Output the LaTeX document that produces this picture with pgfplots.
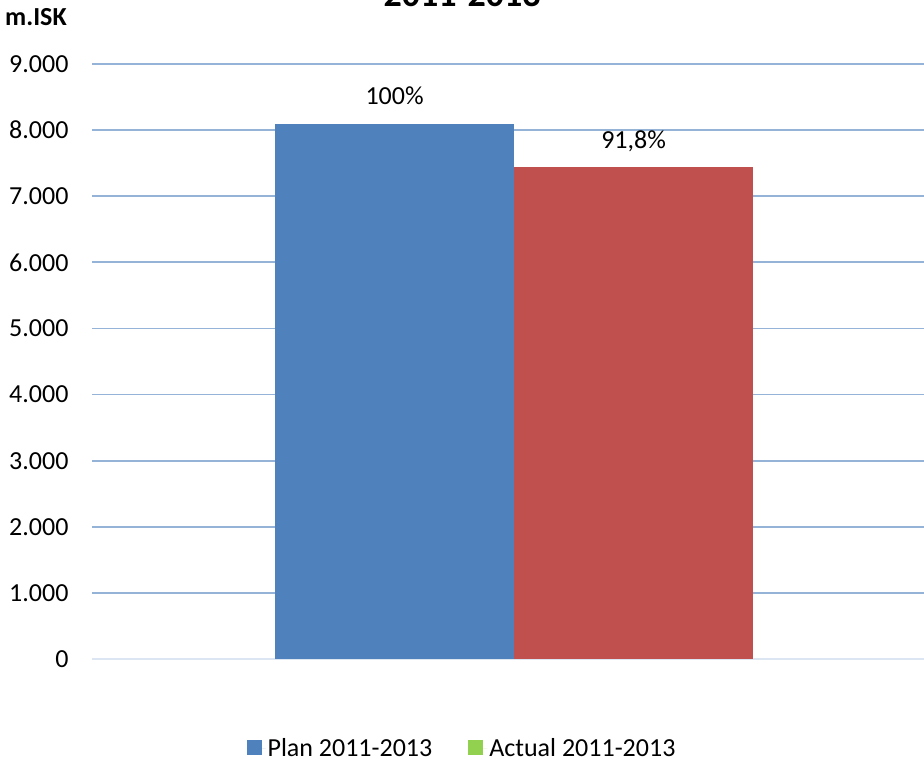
\documentclass[border=0pt]{standalone}
\usepackage{fontspec}
\setmainfont{Carlito}
\usepackage{pgfplots}
\pgfplotsset{compat=1.18}
\definecolor{barblue}{HTML}{4F81BD}
\definecolor{barred}{HTML}{C0504D}
\definecolor{leggreen}{HTML}{92D050}
\definecolor{gridblue}{HTML}{95B3D7}
\definecolor{zeroline}{HTML}{DCE6F2}
\begin{document}
\begin{tikzpicture}[x=1pt,y=1pt]
\begin{axis}[
  at={(92pt,105pt)}, anchor=south west,
  scale only axis, width=832pt, height=595pt,
  ymin=0, ymax=9000, ytick={0,1000,...,9000},
  xmin=-1.766, xmax=1.715,
  xtick=\empty,
  axis line style={draw=none},
  ymajorgrids, grid style={gridblue, line width=1.8pt},
  major tick length=0pt,
  yticklabel style={font=\fontsize{26pt}{30pt}\selectfont, anchor=east, xshift=-20pt},
  /pgf/number format/assume math mode=true,
  /pgf/number format/.cd, 1000 sep={.},
  /pgfplots/.cd,
  scaled y ticks=false,
  clip=false,
  legend style={at={(0.4447,-0.150)}, anchor=center, draw=none, fill=none,
    font=\fontsize{26pt}{30pt}\selectfont,
    /tikz/every even column/.append style={column sep=34pt},
    legend cell align=left},
  legend columns=2,
  legend image code/.code={\fill[#1] (0pt,-7pt) rectangle (15pt,8pt); \path (0pt,0pt) -- (19pt,0pt);},
]
\draw[zeroline, line width=2pt] (axis cs:-1.766,0) -- (axis cs:1.715,0);
\addplot[ybar, bar width=1, bar shift=0pt, fill=barblue, draw=none, forget plot,
  nodes near coords={100\%},
  every node near coord/.append style={anchor=base, inner sep=0pt, text depth=0pt, yshift=19pt, font=\fontsize{26pt}{30pt}\selectfont, text=black}]
  coordinates {(-0.5,8100)};
\addplot[ybar, bar width=1, bar shift=0pt, fill=barred, draw=none, forget plot,
  nodes near coords={91,8\%},
  every node near coord/.append style={anchor=base, inner sep=0pt, text depth=0pt, yshift=19pt, font=\fontsize{26pt}{30pt}\selectfont, text=black}]
  coordinates {(0.5,7436)};
\addlegendimage{fill=barblue, draw=none}
\addlegendentry{Plan 2011-2013}
\addlegendimage{fill=leggreen, draw=none}
\addlegendentry{Actual 2011-2013}
\end{axis}
\node[anchor=base west, inner sep=0pt, font=\bfseries\fontsize{26pt}{30pt}\selectfont] at (5pt,738pt) {m.ISK};
\node[anchor=base, inner sep=0pt, font=\bfseries\fontsize{36pt}{42pt}\selectfont] at (462pt,757pt) {2011-2013};
\pgfresetboundingbox
\path[use as bounding box] (0pt,0pt) rectangle (924pt,764pt);
\end{tikzpicture}
\end{document}
